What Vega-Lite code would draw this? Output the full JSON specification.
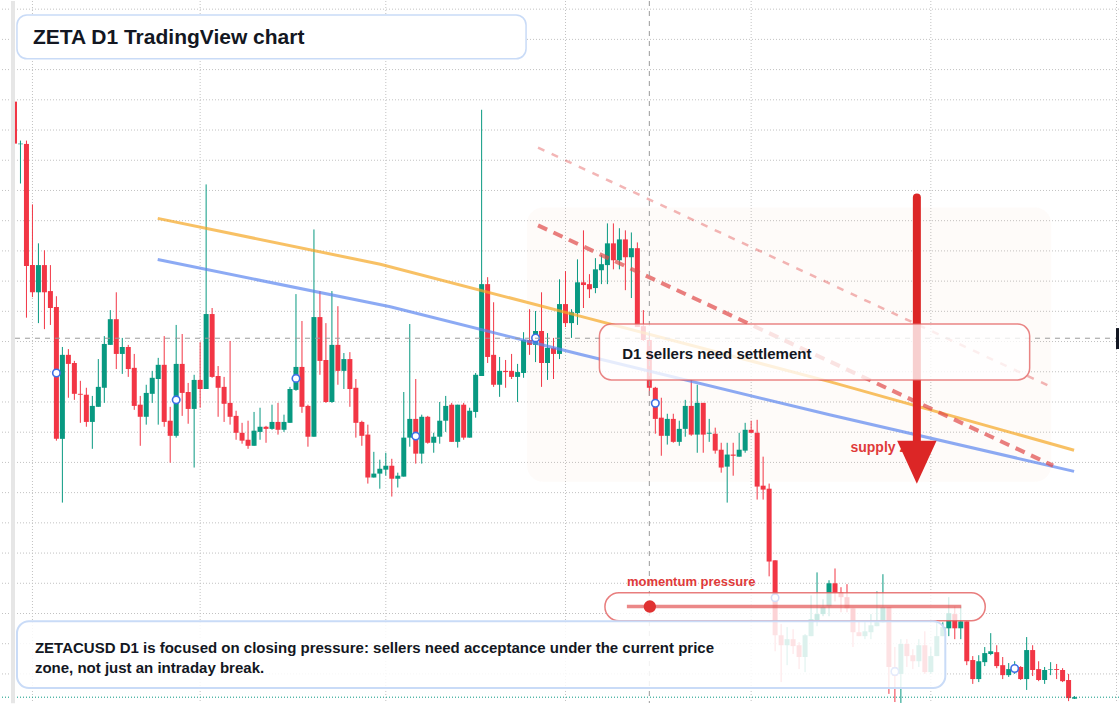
{
"$schema": "https://vega.github.io/schema/vega-lite/v6.json",
"width": 1120, "height": 704,
"autosize": {"type": "fit", "contains": "padding"},
"padding": 0,
"background": "#ffffff",
"config": {"view": {"stroke": null}, "scale": {"continuousPadding": 0}},
"datasets": {
"gridX": [{"t":"2025-02-01"},{"t":"2025-03-01"},{"t":"2025-04-01"},{"t":"2025-05-01"},{"t":"2025-06-01"},{"t":"2025-07-01"},{"t":"2025-08-01"}],
"gridY": [{"p":0.21},{"p":0.22},{"p":0.23},{"p":0.24},{"p":0.25},{"p":0.26},{"p":0.27},{"p":0.28},{"p":0.29},{"p":0.30},{"p":0.31},{"p":0.32},{"p":0.33},{"p":0.34},{"p":0.35},{"p":0.36},{"p":0.37},{"p":0.38},{"p":0.39},{"p":0.40},{"p":0.41},{"p":0.42},{"p":0.43}],
"candles": [
{"t":"2025-01-29","o":0.3994,"h":0.3997,"l":0.3855,"c":0.3855},
{"t":"2025-01-30","o":0.3853,"h":0.3865,"l":0.3723,"c":0.3855},
{"t":"2025-01-31","o":0.3854,"h":0.3865,"l":0.3279,"c":0.3450},
{"t":"2025-02-01","o":0.3453,"h":0.3654,"l":0.3347,"c":0.3363},
{"t":"2025-02-02","o":0.3363,"h":0.3525,"l":0.3261,"c":0.3453},
{"t":"2025-02-03","o":0.3453,"h":0.3502,"l":0.3241,"c":0.3363},
{"t":"2025-02-04","o":0.3367,"h":0.3453,"l":0.3255,"c":0.3311},
{"t":"2025-02-05","o":0.3314,"h":0.3350,"l":0.2872,"c":0.2878},
{"t":"2025-02-06","o":0.2878,"h":0.3182,"l":0.2667,"c":0.3156},
{"t":"2025-02-07","o":0.3156,"h":0.3175,"l":0.3014,"c":0.3126},
{"t":"2025-02-08","o":0.3129,"h":0.3136,"l":0.3007,"c":0.3027},
{"t":"2025-02-09","o":0.3027,"h":0.3070,"l":0.2931,"c":0.3024},
{"t":"2025-02-10","o":0.3024,"h":0.3047,"l":0.2918,"c":0.2934},
{"t":"2025-02-11","o":0.2934,"h":0.3020,"l":0.2845,"c":0.2987},
{"t":"2025-02-12","o":0.2984,"h":0.3142,"l":0.2984,"c":0.3050},
{"t":"2025-02-13","o":0.3047,"h":0.3218,"l":0.2997,"c":0.3192},
{"t":"2025-02-14","o":0.3189,"h":0.3304,"l":0.3189,"c":0.3274},
{"t":"2025-02-15","o":0.3274,"h":0.3363,"l":0.3109,"c":0.3159},
{"t":"2025-02-16","o":0.3159,"h":0.3212,"l":0.3093,"c":0.3182},
{"t":"2025-02-17","o":0.3182,"h":0.3189,"l":0.3083,"c":0.3109},
{"t":"2025-02-18","o":0.3113,"h":0.3159,"l":0.2974,"c":0.2987},
{"t":"2025-02-19","o":0.2991,"h":0.3020,"l":0.2855,"c":0.2951},
{"t":"2025-02-20","o":0.2951,"h":0.3057,"l":0.2925,"c":0.3030},
{"t":"2025-02-21","o":0.3027,"h":0.3103,"l":0.2997,"c":0.3080},
{"t":"2025-02-22","o":0.3076,"h":0.3146,"l":0.2925,"c":0.3123},
{"t":"2025-02-23","o":0.3123,"h":0.3218,"l":0.2918,"c":0.2934},
{"t":"2025-02-24","o":0.2938,"h":0.2984,"l":0.2799,"c":0.2888},
{"t":"2025-02-25","o":0.2888,"h":0.3255,"l":0.2882,"c":0.3126},
{"t":"2025-02-26","o":0.3126,"h":0.3225,"l":0.2954,"c":0.3030},
{"t":"2025-02-27","o":0.3033,"h":0.3063,"l":0.2928,"c":0.2977},
{"t":"2025-02-28","o":0.2977,"h":0.3090,"l":0.2783,"c":0.3073},
{"t":"2025-03-01","o":0.3073,"h":0.3198,"l":0.2981,"c":0.3043},
{"t":"2025-03-02","o":0.3043,"h":0.3720,"l":0.3043,"c":0.3291},
{"t":"2025-03-03","o":0.3291,"h":0.3311,"l":0.3080,"c":0.3083},
{"t":"2025-03-04","o":0.3086,"h":0.3119,"l":0.2951,"c":0.3047},
{"t":"2025-03-05","o":0.3050,"h":0.3083,"l":0.2934,"c":0.2994},
{"t":"2025-03-06","o":0.2997,"h":0.3202,"l":0.2925,"c":0.2951},
{"t":"2025-03-07","o":0.2954,"h":0.2971,"l":0.2875,"c":0.2898},
{"t":"2025-03-08","o":0.2898,"h":0.2931,"l":0.2862,"c":0.2872},
{"t":"2025-03-09","o":0.2875,"h":0.2938,"l":0.2845,"c":0.2855},
{"t":"2025-03-10","o":0.2855,"h":0.2967,"l":0.2855,"c":0.2905},
{"t":"2025-03-11","o":0.2901,"h":0.2981,"l":0.2875,"c":0.2918},
{"t":"2025-03-12","o":0.2918,"h":0.2921,"l":0.2865,"c":0.2911},
{"t":"2025-03-13","o":0.2911,"h":0.2991,"l":0.2908,"c":0.2934},
{"t":"2025-03-14","o":0.2934,"h":0.2997,"l":0.2892,"c":0.2908},
{"t":"2025-03-15","o":0.2908,"h":0.2958,"l":0.2901,"c":0.2934},
{"t":"2025-03-16","o":0.2931,"h":0.3050,"l":0.2931,"c":0.3043},
{"t":"2025-03-17","o":0.3040,"h":0.3357,"l":0.3037,"c":0.3116},
{"t":"2025-03-18","o":0.3116,"h":0.3268,"l":0.2964,"c":0.2984},
{"t":"2025-03-19","o":0.2987,"h":0.2991,"l":0.2852,"c":0.2885},
{"t":"2025-03-20","o":0.2885,"h":0.3571,"l":0.2885,"c":0.3281},
{"t":"2025-03-21","o":0.3281,"h":0.3367,"l":0.3090,"c":0.3136},
{"t":"2025-03-22","o":0.3139,"h":0.3261,"l":0.2997,"c":0.3000},
{"t":"2025-03-23","o":0.3000,"h":0.3367,"l":0.2997,"c":0.3189},
{"t":"2025-03-24","o":0.3189,"h":0.3317,"l":0.3057,"c":0.3103},
{"t":"2025-03-25","o":0.3103,"h":0.3162,"l":0.3043,"c":0.3142},
{"t":"2025-03-26","o":0.3142,"h":0.3165,"l":0.2984,"c":0.3043},
{"t":"2025-03-27","o":0.3047,"h":0.3076,"l":0.2882,"c":0.2931},
{"t":"2025-03-28","o":0.2934,"h":0.2938,"l":0.2855,"c":0.2888},
{"t":"2025-03-29","o":0.2892,"h":0.2925,"l":0.2730,"c":0.2750},
{"t":"2025-03-30","o":0.2750,"h":0.2835,"l":0.2750,"c":0.2763},
{"t":"2025-03-31","o":0.2763,"h":0.2809,"l":0.2713,"c":0.2779},
{"t":"2025-04-01","o":0.2776,"h":0.2832,"l":0.2756,"c":0.2789},
{"t":"2025-04-02","o":0.2789,"h":0.2812,"l":0.2687,"c":0.2746},
{"t":"2025-04-03","o":0.2746,"h":0.2766,"l":0.2717,"c":0.2756},
{"t":"2025-04-04","o":0.2753,"h":0.3033,"l":0.2753,"c":0.2882},
{"t":"2025-04-05","o":0.2882,"h":0.3258,"l":0.2852,"c":0.2944},
{"t":"2025-04-06","o":0.2944,"h":0.3076,"l":0.2796,"c":0.2829},
{"t":"2025-04-07","o":0.2829,"h":0.2958,"l":0.2796,"c":0.2951},
{"t":"2025-04-08","o":0.2951,"h":0.2954,"l":0.2862,"c":0.2865},
{"t":"2025-04-09","o":0.2865,"h":0.2898,"l":0.2832,"c":0.2885},
{"t":"2025-04-10","o":0.2885,"h":0.3000,"l":0.2862,"c":0.2938},
{"t":"2025-04-11","o":0.2938,"h":0.3020,"l":0.2901,"c":0.2987},
{"t":"2025-04-12","o":0.2991,"h":0.2997,"l":0.2868,"c":0.2868},
{"t":"2025-04-13","o":0.2868,"h":0.2991,"l":0.2849,"c":0.2991},
{"t":"2025-04-14","o":0.2991,"h":0.2997,"l":0.2875,"c":0.2882},
{"t":"2025-04-15","o":0.2882,"h":0.2981,"l":0.2882,"c":0.2971},
{"t":"2025-04-16","o":0.2967,"h":0.3096,"l":0.2948,"c":0.3090},
{"t":"2025-04-17","o":0.3086,"h":0.3967,"l":0.3086,"c":0.3390},
{"t":"2025-04-18","o":0.3390,"h":0.3413,"l":0.3129,"c":0.3149},
{"t":"2025-04-19","o":0.3156,"h":0.3330,"l":0.3050,"c":0.3057},
{"t":"2025-04-20","o":0.3057,"h":0.3149,"l":0.3017,"c":0.3103},
{"t":"2025-04-21","o":0.3103,"h":0.3139,"l":0.3047,"c":0.3099},
{"t":"2025-04-22","o":0.3103,"h":0.3159,"l":0.3076,"c":0.3083},
{"t":"2025-04-23","o":0.3083,"h":0.3126,"l":0.3000,"c":0.3099},
{"t":"2025-04-24","o":0.3096,"h":0.3231,"l":0.3080,"c":0.3205},
{"t":"2025-04-25","o":0.3205,"h":0.3307,"l":0.3156,"c":0.3189},
{"t":"2025-04-26","o":0.3189,"h":0.3301,"l":0.3132,"c":0.3235},
{"t":"2025-04-27","o":0.3235,"h":0.3363,"l":0.3050,"c":0.3129},
{"t":"2025-04-28","o":0.3129,"h":0.3228,"l":0.3073,"c":0.3179},
{"t":"2025-04-29","o":0.3179,"h":0.3212,"l":0.3076,"c":0.3159},
{"t":"2025-04-30","o":0.3159,"h":0.3406,"l":0.3142,"c":0.3324},
{"t":"2025-05-01","o":0.3324,"h":0.3433,"l":0.3248,"c":0.3261},
{"t":"2025-05-02","o":0.3261,"h":0.3307,"l":0.3212,"c":0.3297},
{"t":"2025-05-03","o":0.3294,"h":0.3472,"l":0.3255,"c":0.3396},
{"t":"2025-05-04","o":0.3396,"h":0.3568,"l":0.3311,"c":0.3387},
{"t":"2025-05-05","o":0.3390,"h":0.3423,"l":0.3344,"c":0.3373},
{"t":"2025-05-06","o":0.3377,"h":0.3476,"l":0.3360,"c":0.3439},
{"t":"2025-05-07","o":0.3436,"h":0.3486,"l":0.3390,"c":0.3456},
{"t":"2025-05-08","o":0.3453,"h":0.3591,"l":0.3390,"c":0.3525},
{"t":"2025-05-09","o":0.3525,"h":0.3591,"l":0.3439,"c":0.3469},
{"t":"2025-05-10","o":0.3469,"h":0.3575,"l":0.3439,"c":0.3538},
{"t":"2025-05-11","o":0.3538,"h":0.3568,"l":0.3370,"c":0.3479},
{"t":"2025-05-12","o":0.3479,"h":0.3561,"l":0.3344,"c":0.3509},
{"t":"2025-05-13","o":0.3509,"h":0.3528,"l":0.3248,"c":0.3248},
{"t":"2025-05-14","o":0.3251,"h":0.3304,"l":0.3202,"c":0.3205},
{"t":"2025-05-15","o":0.3205,"h":0.3228,"l":0.3020,"c":0.3047},
{"t":"2025-05-16","o":0.3047,"h":0.3050,"l":0.2895,"c":0.2944},
{"t":"2025-05-17","o":0.2948,"h":0.3014,"l":0.2822,"c":0.2888},
{"t":"2025-05-18","o":0.2888,"h":0.2961,"l":0.2859,"c":0.2944},
{"t":"2025-05-19","o":0.2944,"h":0.2961,"l":0.2865,"c":0.2868},
{"t":"2025-05-20","o":0.2868,"h":0.2938,"l":0.2855,"c":0.2911},
{"t":"2025-05-21","o":0.2911,"h":0.3007,"l":0.2885,"c":0.2987},
{"t":"2025-05-22","o":0.2987,"h":0.3073,"l":0.2888,"c":0.2892},
{"t":"2025-05-23","o":0.2892,"h":0.3057,"l":0.2832,"c":0.2997},
{"t":"2025-05-24","o":0.2997,"h":0.2997,"l":0.2832,"c":0.2892},
{"t":"2025-05-25","o":0.2895,"h":0.2944,"l":0.2868,"c":0.2898},
{"t":"2025-05-26","o":0.2895,"h":0.2915,"l":0.2829,"c":0.2839},
{"t":"2025-05-27","o":0.2842,"h":0.2865,"l":0.2766,"c":0.2783},
{"t":"2025-05-28","o":0.2786,"h":0.2865,"l":0.2667,"c":0.2826},
{"t":"2025-05-29","o":0.2826,"h":0.2865,"l":0.2756,"c":0.2822},
{"t":"2025-05-30","o":0.2819,"h":0.2898,"l":0.2819,"c":0.2842},
{"t":"2025-05-31","o":0.2839,"h":0.2931,"l":0.2832,"c":0.2908},
{"t":"2025-06-01","o":0.2908,"h":0.2938,"l":0.2898,"c":0.2898},
{"t":"2025-06-02","o":0.2898,"h":0.2941,"l":0.2677,"c":0.2720},
{"t":"2025-06-03","o":0.2723,"h":0.2819,"l":0.2677,"c":0.2710},
{"t":"2025-06-04","o":0.2713,"h":0.2730,"l":0.2423,"c":0.2472},
{"t":"2025-06-05","o":0.2476,"h":0.2476,"l":0.2175,"c":0.2228},
{"t":"2025-06-06","o":0.2228,"h":0.2265,"l":0.2073,"c":0.2195},
{"t":"2025-06-07","o":0.2195,"h":0.2255,"l":0.2129,"c":0.2215},
{"t":"2025-06-08","o":0.2215,"h":0.2248,"l":0.2166,"c":0.2192},
{"t":"2025-06-09","o":0.2195,"h":0.2205,"l":0.2116,"c":0.2156},
{"t":"2025-06-10","o":0.2156,"h":0.2232,"l":0.2106,"c":0.2228},
{"t":"2025-06-11","o":0.2225,"h":0.2360,"l":0.2225,"c":0.2281},
{"t":"2025-06-12","o":0.2278,"h":0.2436,"l":0.2258,"c":0.2298},
{"t":"2025-06-13","o":0.2298,"h":0.2347,"l":0.2291,"c":0.2321},
{"t":"2025-06-14","o":0.2324,"h":0.2410,"l":0.2291,"c":0.2400},
{"t":"2025-06-15","o":0.2400,"h":0.2449,"l":0.2340,"c":0.2367},
{"t":"2025-06-16","o":0.2370,"h":0.2387,"l":0.2304,"c":0.2354},
{"t":"2025-06-17","o":0.2354,"h":0.2397,"l":0.2304,"c":0.2317},
{"t":"2025-06-18","o":0.2317,"h":0.2317,"l":0.2189,"c":0.2238},
{"t":"2025-06-19","o":0.2238,"h":0.2274,"l":0.2225,"c":0.2225},
{"t":"2025-06-20","o":0.2225,"h":0.2271,"l":0.2215,"c":0.2241},
{"t":"2025-06-21","o":0.2238,"h":0.2298,"l":0.2215,"c":0.2261},
{"t":"2025-06-22","o":0.2258,"h":0.2373,"l":0.2258,"c":0.2271},
{"t":"2025-06-23","o":0.2271,"h":0.2430,"l":0.2271,"c":0.2321},
{"t":"2025-06-24","o":0.2321,"h":0.2321,"l":0.2034,"c":0.2123},
{"t":"2025-06-25","o":0.2123,"h":0.2189,"l":0.2007,"c":0.2093},
{"t":"2025-06-26","o":0.2100,"h":0.2215,"l":0.2004,"c":0.2199},
{"t":"2025-06-27","o":0.2199,"h":0.2215,"l":0.2123,"c":0.2159},
{"t":"2025-06-28","o":0.2162,"h":0.2182,"l":0.2116,"c":0.2142},
{"t":"2025-06-29","o":0.2142,"h":0.2215,"l":0.2123,"c":0.2195},
{"t":"2025-06-30","o":0.2195,"h":0.2241,"l":0.2100,"c":0.2106},
{"t":"2025-07-01","o":0.2106,"h":0.2189,"l":0.2100,"c":0.2159},
{"t":"2025-07-02","o":0.2159,"h":0.2271,"l":0.2159,"c":0.2225},
{"t":"2025-07-03","o":0.2225,"h":0.2271,"l":0.2225,"c":0.2255},
{"t":"2025-07-04","o":0.2251,"h":0.2354,"l":0.2225,"c":0.2301},
{"t":"2025-07-05","o":0.2298,"h":0.2324,"l":0.2215,"c":0.2251},
{"t":"2025-07-06","o":0.2251,"h":0.2324,"l":0.2215,"c":0.2274},
{"t":"2025-07-07","o":0.2274,"h":0.2274,"l":0.2129,"c":0.2142},
{"t":"2025-07-08","o":0.2146,"h":0.2159,"l":0.2067,"c":0.2083},
{"t":"2025-07-09","o":0.2083,"h":0.2162,"l":0.2073,"c":0.2142},
{"t":"2025-07-10","o":0.2139,"h":0.2189,"l":0.2126,"c":0.2169},
{"t":"2025-07-11","o":0.2166,"h":0.2235,"l":0.2162,"c":0.2175},
{"t":"2025-07-12","o":0.2172,"h":0.2195,"l":0.2119,"c":0.2126},
{"t":"2025-07-13","o":0.2129,"h":0.2156,"l":0.2083,"c":0.2096},
{"t":"2025-07-14","o":0.2096,"h":0.2136,"l":0.2090,"c":0.2116},
{"t":"2025-07-15","o":0.2113,"h":0.2142,"l":0.2100,"c":0.2123},
{"t":"2025-07-16","o":0.2123,"h":0.2126,"l":0.2080,"c":0.2083},
{"t":"2025-07-17","o":0.2083,"h":0.2222,"l":0.2047,"c":0.2179},
{"t":"2025-07-18","o":0.2179,"h":0.2195,"l":0.2093,"c":0.2113},
{"t":"2025-07-19","o":0.2116,"h":0.2142,"l":0.2076,"c":0.2080},
{"t":"2025-07-20","o":0.2080,"h":0.2123,"l":0.2067,"c":0.2113},
{"t":"2025-07-21","o":0.2114,"h":0.2139,"l":0.2096,"c":0.2116},
{"t":"2025-07-22","o":0.2116,"h":0.2133,"l":0.2083,"c":0.2113},
{"t":"2025-07-23","o":0.2113,"h":0.2119,"l":0.2073,"c":0.2076},
{"t":"2025-07-24","o":0.2080,"h":0.2100,"l":0.2010,"c":0.2020},
{"t":"2025-07-25","o":0.2018,"h":0.2027,"l":0.2017,"c":0.2023}
],
"markers": [
{"t":"2025-02-05","p":0.3096},{"t":"2025-02-25","p":0.3007},{"t":"2025-03-17","p":0.3078},
{"t":"2025-04-06","p":0.2887},{"t":"2025-04-26","p":0.3212},{"t":"2025-05-16","p":0.2996},
{"t":"2025-06-05","p":0.2352},{"t":"2025-06-25","p":0.2108},{"t":"2025-07-15","p":0.2118}
],
"orangeLine": [
{"t":"2025-02-21T22:00:00Z","p":0.36076},{"t":"2025-03-31T02:00:00Z","p":0.34558},{"t":"2025-05-03T10:00:00Z","p":0.32842},{"t":"2025-06-14T02:00:00Z","p":0.30674},{"t":"2025-07-24T22:00:00Z","p":0.28404}
],
"blueLine": [
{"t":"2025-02-21T22:00:00Z","p":0.34713},{"t":"2025-04-01T18:00:00Z","p":0.33149},{"t":"2025-05-03T10:00:00Z","p":0.31578},{"t":"2025-06-14T02:00:00Z","p":0.29575},{"t":"2025-07-24T22:00:00Z","p":0.27704}
],
"upperDash": [
{"t":"2025-04-26T10:00:00Z","p":0.38419},{"t":"2025-07-21T02:00:00Z","p":0.30499}
],
"lowerDash": [
{"t":"2025-04-26T10:00:00Z","p":0.35845},{"t":"2025-07-21T10:00:00Z","p":0.27892}
],
"zone": [{"t":"2025-04-24T14:00:00Z","t2":"2025-07-21T02:00:00Z","p":0.36439,"p2":0.27364}],
"crossV": [{"t":"2025-05-15"}],
"crossH": [{"t":"2025-01-29T02:00:00Z","t2":"2025-07-31T22:00:00Z","p":0.3211}],
"lastPrice": [{"p":0.2023}],
"supplyLabel": [{"t":"2025-06-17T14:00:00Z","p":0.28331,"label":"supply zone"}],
"arrowShaft": [{"t":"2025-06-28T16:00:00Z","p":0.36769,"p2":0.28585}],
"arrowHead": [{"t":"2025-06-28T16:00:00Z","p":0.28008}],
"callout": [{"t":"2025-05-06T16:00:00Z","t2":"2025-07-17T12:00:00Z","p":0.32578,"p2":0.3073}],
"calloutText": [{"t":"2025-05-10T11:12:00Z","p":0.31423,"label":"D1 sellers need settlement"}],
"momentumLabel": [{"t":"2025-05-11T06:00:00Z","p":0.23899,"label":"momentum pressure"}],
"pill": [{"t":"2025-05-07T14:00:00Z","t2":"2025-07-10T02:00:00Z","p":0.23685,"p2":0.22761}],
"pillLine": [{"t":"2025-05-11T06:00:00Z","t2":"2025-07-06T02:00:00Z","p":0.23229}],
"pillDot": [{"t":"2025-05-15T02:00:00Z","p":0.23229}],
"bottomBox": [{"t":"2025-01-29T10:00:00Z","t2":"2025-07-03T10:00:00Z","p":0.22744,"p2":0.20533}],
"bottomText": [
{"t":"2025-02-01T10:00:00Z","p":0.21688,"label":"ZETACUSD D1 is focused on closing pressure: sellers need acceptance under the current price"},
{"t":"2025-02-01T10:00:00Z","p":0.21045,"label":"zone, not just an intraday break."}
],
"titleBox": [{"t":"2025-01-29T10:00:00Z","t2":"2025-04-24T10:00:00Z","p":0.42808,"p2":0.41356}],
"titleText": [{"t":"2025-02-01T02:00:00Z","p":0.41835,"label":"ZETA D1 TradingView chart"}],
"leftStrip": [{"t":"2025-01-28T10:00:00Z","t2":"2025-01-29T02:00:00Z","p":0.2003,"p2":0.4327}],
"priceTag": [{"t":"2025-07-31T22:00:00Z","t2":"2025-08-03T00:00:00Z","p":0.32446,"p2":0.31753}]
},
"layer": [
{"data": {"name": "gridY"}, "mark": {"type": "rule", "color": "#c2c2c2", "strokeWidth": 1, "strokeDash": [1, 2]},
 "encoding": {"y": {"field": "p", "type": "quantitative", "axis": null, "scale": {"domain": [0.20038, 0.4327], "nice": false, "zero": false}}}},
{"data": {"name": "gridX"}, "mark": {"type": "rule", "color": "#c2c2c2", "strokeWidth": 1, "strokeDash": [1, 2]},
 "encoding": {"x": {"field": "t", "type": "temporal", "axis": null, "scale": {"type": "utc", "domain": [{"year": 2025, "month": 1, "date": 26, "hours": 18, "utc": true}, {"year": 2025, "month": 8, "date": 1, "hours": 10, "utc": true}]}}}},
{"data": {"name": "zone"}, "mark": {"type": "rect", "fill": "#e8a87c", "fillOpacity": 0.045, "cornerRadius": 16},
 "encoding": {"x": {"field": "t", "type": "temporal", "axis": null}, "x2": {"field": "t2"},
  "y": {"field": "p", "type": "quantitative", "axis": null}, "y2": {"field": "p2"}}},
{"data": {"name": "candles"}, "mark": {"type": "rule", "strokeWidth": 1},
 "encoding": {"x": {"field": "t", "type": "temporal", "axis": null}, "y": {"field": "l", "type": "quantitative", "axis": null}, "y2": {"field": "h"},
  "color": {"condition": {"test": "datum.c >= datum.o", "value": "#089981"}, "value": "#f23645"}}},
{"data": {"name": "candles"}, "mark": {"type": "bar", "width": 5},
 "encoding": {"x": {"field": "t", "type": "temporal", "axis": null}, "y": {"field": "o", "type": "quantitative", "axis": null}, "y2": {"field": "c"},
  "color": {"condition": {"test": "datum.c >= datum.o", "value": "#089981"}, "value": "#f23645"}}},
{"data": {"name": "orangeLine"}, "mark": {"type": "line", "color": "#f5a623", "opacity": 0.7, "strokeWidth": 3},
 "encoding": {"x": {"field": "t", "type": "temporal", "axis": null}, "y": {"field": "p", "type": "quantitative", "axis": null}}},
{"data": {"name": "blueLine"}, "mark": {"type": "line", "color": "#5b86f0", "opacity": 0.7, "strokeWidth": 3},
 "encoding": {"x": {"field": "t", "type": "temporal", "axis": null}, "y": {"field": "p", "type": "quantitative", "axis": null}}},
{"data": {"name": "upperDash"}, "mark": {"type": "line", "color": "#e04848", "opacity": 0.4, "strokeWidth": 2.5, "strokeDash": [7, 8]},
 "encoding": {"x": {"field": "t", "type": "temporal", "axis": null}, "y": {"field": "p", "type": "quantitative", "axis": null}}},
{"data": {"name": "lowerDash"}, "mark": {"type": "line", "color": "#e04848", "opacity": 0.7, "strokeWidth": 4, "strokeDash": [10, 7]},
 "encoding": {"x": {"field": "t", "type": "temporal", "axis": null}, "y": {"field": "p", "type": "quantitative", "axis": null}}},
{"data": {"name": "markers"}, "mark": {"type": "point", "shape": "circle", "filled": true, "fill": "#ffffff", "stroke": "#3d6fe6", "strokeWidth": 1.6, "size": 56, "opacity": 1},
 "encoding": {"x": {"field": "t", "type": "temporal", "axis": null}, "y": {"field": "p", "type": "quantitative", "axis": null}}},
{"data": {"name": "crossV"}, "mark": {"type": "rule", "color": "#9a9a9a", "strokeWidth": 1, "strokeDash": [5, 5]},
 "encoding": {"x": {"field": "t", "type": "temporal", "axis": null}}},
{"data": {"name": "crossH"}, "mark": {"type": "rule", "color": "#9a9a9a", "strokeWidth": 1, "strokeDash": [5, 5]},
 "encoding": {"x": {"field": "t", "type": "temporal", "axis": null}, "x2": {"field": "t2"}, "y": {"field": "p", "type": "quantitative", "axis": null}}},
{"data": {"name": "lastPrice"}, "mark": {"type": "rule", "color": "#089981", "strokeWidth": 1, "strokeDash": [1, 2]},
 "encoding": {"y": {"field": "p", "type": "quantitative", "axis": null}}},
{"data": {"name": "supplyLabel"}, "mark": {"type": "text", "font": "Liberation Sans", "fontWeight": "bold", "fontSize": 14, "align": "left", "baseline": "alphabetic", "color": "#e03a3a"},
 "encoding": {"x": {"field": "t", "type": "temporal", "axis": null}, "y": {"field": "p", "type": "quantitative", "axis": null}, "text": {"field": "label"}}},
{"data": {"name": "arrowShaft"}, "mark": {"type": "rule", "color": "#dc2626", "strokeWidth": 8, "strokeCap": "round"},
 "encoding": {"x": {"field": "t", "type": "temporal", "axis": null}, "y": {"field": "p", "type": "quantitative", "axis": null}, "y2": {"field": "p2"}}},
{"data": {"name": "arrowHead"}, "mark": {"type": "point", "shape": "M-0.916,-1L0.916,-1L0,1Z", "filled": true, "color": "#dc2626", "size": 1849, "opacity": 1},
 "encoding": {"x": {"field": "t", "type": "temporal", "axis": null}, "y": {"field": "p", "type": "quantitative", "axis": null}}},
{"data": {"name": "callout"}, "mark": {"type": "rect", "fill": "#ffffff", "fillOpacity": 0.78, "stroke": "#e25c5c", "strokeOpacity": 0.75, "strokeWidth": 1.5, "cornerRadius": 12},
 "encoding": {"x": {"field": "t", "type": "temporal", "axis": null}, "x2": {"field": "t2"}, "y": {"field": "p", "type": "quantitative", "axis": null}, "y2": {"field": "p2"}}},
{"data": {"name": "calloutText"}, "mark": {"type": "text", "font": "Liberation Sans", "fontWeight": "bold", "fontSize": 15, "align": "left", "baseline": "alphabetic", "color": "#131722"},
 "encoding": {"x": {"field": "t", "type": "temporal", "axis": null}, "y": {"field": "p", "type": "quantitative", "axis": null}, "text": {"field": "label"}}},
{"data": {"name": "momentumLabel"}, "mark": {"type": "text", "font": "Liberation Sans", "fontWeight": "bold", "fontSize": 13, "align": "left", "baseline": "alphabetic", "color": "#e03a3a"},
 "encoding": {"x": {"field": "t", "type": "temporal", "axis": null}, "y": {"field": "p", "type": "quantitative", "axis": null}, "text": {"field": "label"}}},
{"data": {"name": "pill"}, "mark": {"type": "rect", "fill": "#ffffff", "fillOpacity": 0.78, "stroke": "#e25c5c", "strokeOpacity": 0.8, "strokeWidth": 1.5, "cornerRadius": 14},
 "encoding": {"x": {"field": "t", "type": "temporal", "axis": null}, "x2": {"field": "t2"}, "y": {"field": "p", "type": "quantitative", "axis": null}, "y2": {"field": "p2"}}},
{"data": {"name": "pillLine"}, "mark": {"type": "rule", "color": "#e04848", "opacity": 0.65, "strokeWidth": 3.5},
 "encoding": {"x": {"field": "t", "type": "temporal", "axis": null}, "x2": {"field": "t2"}, "y": {"field": "p", "type": "quantitative", "axis": null}}},
{"data": {"name": "pillDot"}, "mark": {"type": "point", "shape": "circle", "filled": true, "color": "#e03131", "size": 154, "opacity": 1},
 "encoding": {"x": {"field": "t", "type": "temporal", "axis": null}, "y": {"field": "p", "type": "quantitative", "axis": null}}},
{"data": {"name": "bottomBox"}, "mark": {"type": "rect", "fill": "#ffffff", "fillOpacity": 0.86, "stroke": "#c9dbf7", "strokeWidth": 2, "cornerRadius": 12},
 "encoding": {"x": {"field": "t", "type": "temporal", "axis": null}, "x2": {"field": "t2"}, "y": {"field": "p", "type": "quantitative", "axis": null}, "y2": {"field": "p2"}}},
{"data": {"name": "bottomText"}, "mark": {"type": "text", "font": "Liberation Sans", "fontWeight": "bold", "fontSize": 15, "align": "left", "baseline": "alphabetic", "color": "#131722"},
 "encoding": {"x": {"field": "t", "type": "temporal", "axis": null}, "y": {"field": "p", "type": "quantitative", "axis": null}, "text": {"field": "label"}}},
{"data": {"name": "titleBox"}, "mark": {"type": "rect", "fill": "#ffffff", "stroke": "#c9dbf7", "strokeWidth": 1.5, "cornerRadius": 10},
 "encoding": {"x": {"field": "t", "type": "temporal", "axis": null}, "x2": {"field": "t2"}, "y": {"field": "p", "type": "quantitative", "axis": null}, "y2": {"field": "p2"}}},
{"data": {"name": "titleText"}, "mark": {"type": "text", "font": "Liberation Sans", "fontWeight": "bold", "fontSize": 21, "align": "left", "baseline": "alphabetic", "color": "#131722"},
 "encoding": {"x": {"field": "t", "type": "temporal", "axis": null}, "y": {"field": "p", "type": "quantitative", "axis": null}, "text": {"field": "label"}}},
{"data": {"name": "leftStrip"}, "mark": {"type": "rect", "fill": "#e6e6e6"},
 "encoding": {"x": {"field": "t", "type": "temporal", "axis": null}, "x2": {"field": "t2"}, "y": {"field": "p", "type": "quantitative", "axis": null}, "y2": {"field": "p2"}}},
{"data": {"name": "priceTag"}, "mark": {"type": "rect", "fill": "#131722", "clip": true},
 "encoding": {"x": {"field": "t", "type": "temporal", "axis": null}, "x2": {"field": "t2"}, "y": {"field": "p", "type": "quantitative", "axis": null}, "y2": {"field": "p2"}}}
]
}
